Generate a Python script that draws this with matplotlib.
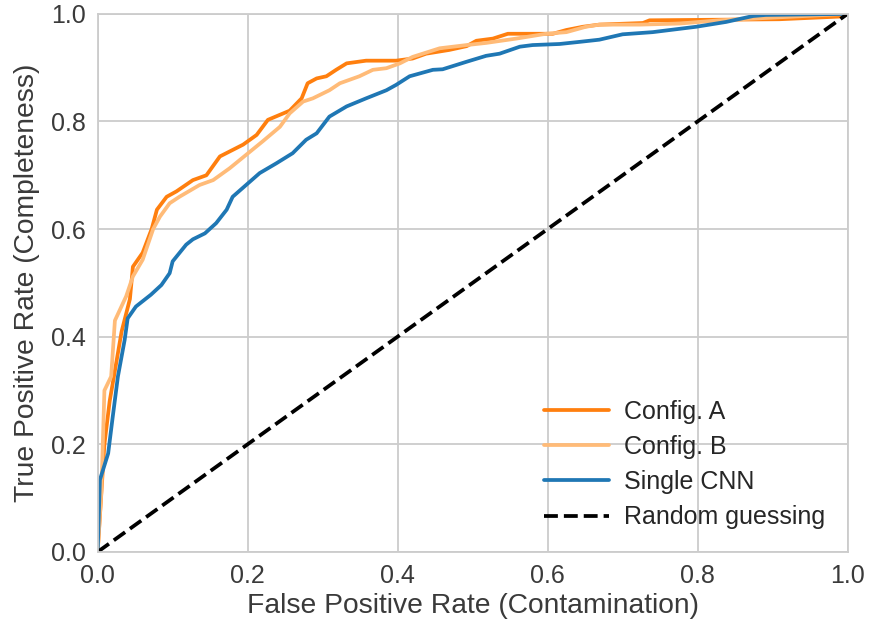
import matplotlib
matplotlib.use("Agg")
import matplotlib.pyplot as plt
import seaborn as sns

# ROC curves (FPR, TPR)
fpr_a = [0.0, 0.009, 0.016, 0.032, 0.043, 0.047, 0.06, 0.072, 0.079, 0.092, 0.105,
         0.127, 0.145, 0.163, 0.194, 0.212, 0.227, 0.256, 0.272, 0.28, 0.292, 0.305,
         0.318, 0.332, 0.358, 0.398, 0.42, 0.438, 0.469, 0.492, 0.505, 0.527, 0.547,
         0.58, 0.607, 0.625, 0.647, 0.669, 0.727, 0.736, 0.82, 0.909, 0.99, 1.0]
tpr_a = [0.0, 0.2, 0.28, 0.41, 0.47, 0.53, 0.556, 0.6, 0.636, 0.66, 0.67,
         0.691, 0.70, 0.735, 0.757, 0.775, 0.803, 0.82, 0.843, 0.871, 0.88, 0.884,
         0.896, 0.908, 0.913, 0.913, 0.917, 0.926, 0.933, 0.94, 0.95, 0.954, 0.963,
         0.963, 0.963, 0.97, 0.976, 0.98, 0.983, 0.988, 0.989, 0.99, 0.995, 1.0]

fpr_b = [0.0, 0.005, 0.009, 0.018, 0.023, 0.038, 0.047, 0.06, 0.074, 0.083, 0.096,
         0.109, 0.136, 0.154, 0.176, 0.198, 0.22, 0.243, 0.256, 0.274, 0.287, 0.309,
         0.323, 0.349, 0.367, 0.385, 0.403, 0.42, 0.456, 0.492, 0.518, 0.558, 0.598,
         0.625, 0.651, 0.669, 0.723, 0.776, 0.829, 0.9, 1.0]
tpr_b = [0.0, 0.115, 0.30, 0.326, 0.43, 0.475, 0.512, 0.543, 0.60, 0.623, 0.648,
         0.66, 0.682, 0.691, 0.713, 0.738, 0.763, 0.79, 0.815, 0.837, 0.843, 0.858,
         0.871, 0.884, 0.896, 0.899, 0.908, 0.92, 0.936, 0.942, 0.946, 0.954, 0.963,
         0.966, 0.976, 0.98, 0.98, 0.982, 0.988, 0.993, 1.0]

fpr_c = [0.0, 0.003, 0.014, 0.02, 0.027, 0.036, 0.04, 0.051, 0.071, 0.085, 0.096,
         0.1, 0.118, 0.127, 0.143, 0.158, 0.172, 0.18, 0.198, 0.216, 0.238, 0.26,
         0.278, 0.292, 0.309, 0.332, 0.358, 0.385, 0.398, 0.416, 0.447, 0.46, 0.492,
         0.518, 0.536, 0.563, 0.58, 0.616, 0.643, 0.669, 0.7, 0.74, 0.798, 0.838,
         0.874, 0.891, 1.0]
tpr_c = [0.0, 0.134, 0.183, 0.25, 0.326, 0.394, 0.434, 0.456, 0.478, 0.496, 0.518,
         0.54, 0.571, 0.581, 0.592, 0.611, 0.636, 0.66, 0.682, 0.704, 0.722, 0.741,
         0.766, 0.778, 0.809, 0.828, 0.843, 0.858, 0.868, 0.884, 0.896, 0.897, 0.911,
         0.922, 0.926, 0.939, 0.942, 0.944, 0.948, 0.952, 0.962, 0.966, 0.976, 0.985,
         0.996, 0.998, 1.0]

sns.set_style("whitegrid")
plt.rcParams["font.family"] = ["Liberation Sans", "DejaVu Sans"]

fig = plt.figure(figsize=(8.72, 6.3), dpi=100)
ax = fig.add_axes([0.112, 0.124, 0.86, 0.854])

lw = 2.7
ax.plot(fpr_a, tpr_a, color="#ff7f0e", lw=lw, label="Config. A")
ax.plot(fpr_b, tpr_b, color="#ffbb78", lw=lw, label="Config. B")
ax.plot(fpr_c, tpr_c, color="#1f77b4", lw=lw, label="Single CNN")
ax.plot([0, 1], [0, 1], color="black", ls="--", lw=lw, label="Random guessing")

ax.set_xlim(0, 1)
ax.set_ylim(0, 1)
ax.set_xlabel("False Positive Rate (Contamination)", fontsize=20.3,
              color="#3a3a3a", labelpad=4)
ax.set_ylabel("True Positive Rate (Completeness)", fontsize=20.3,
              color="#3a3a3a", labelpad=8)
ax.tick_params(labelsize=18, colors="#3a3a3a", pad=5)
for s in ax.spines.values():
    s.set_color("#cccccc")
    s.set_linewidth(1.3)
ax.grid(color="#cccccc", lw=1.3)
ax.legend(loc="lower right", frameon=False, fontsize=18, borderaxespad=0.5,
          handlelength=2.6, handletextpad=0.6, labelspacing=0.45)

fig.savefig("out.png", dpi=100)
